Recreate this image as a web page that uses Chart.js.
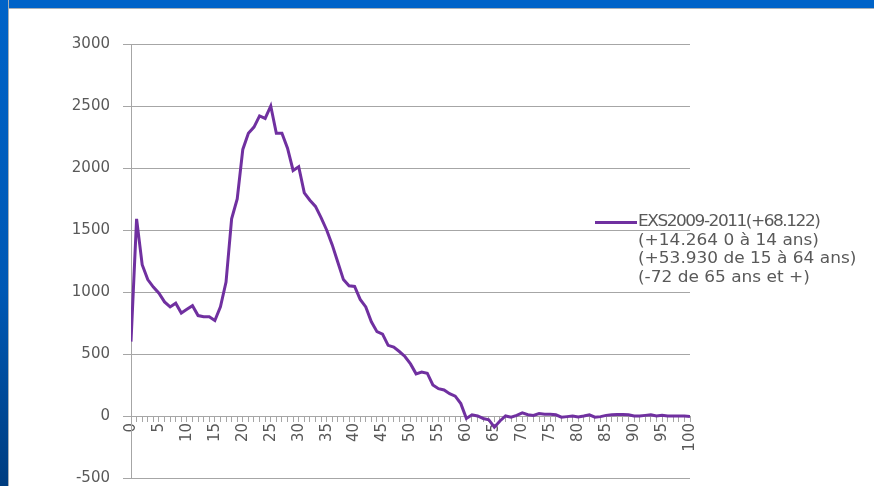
<!DOCTYPE html>
<html>
<head>
<meta charset="utf-8">
<script src="https://cdn.jsdelivr.net/npm/chart.js@4.4.1/dist/chart.umd.min.js"></script>
<style>
    html, body { margin: 0; padding: 0; background: #ffffff; }
    #wrap { position: relative; width: 874px; height: 486px; overflow: hidden; }
    #grafico1 { position: absolute; left: 0; top: 0; }
    #barreHaut { position: absolute; left: 0; top: 0; width: 874px; height: 8px; background: #0063c8; border-bottom: 1px solid #a9b0b8; }
    #barreGauche { position: absolute; left: 0; top: 0; width: 8px; height: 486px; background: linear-gradient(#0063c8, #0058b4 60%, #003d80); border-right: 1px solid #a9b0b8; }
    #legende { position: absolute; left: 595px; top: 212px; font-family: 'DejaVu Sans', sans-serif; font-size: 15px; color: #595959; line-height: 18.7px; }
    #legende .trait { position: absolute; left: 0; top: 9px; width: 42px; height: 3px; background: #7030a0; }
    #legende .texte { margin-left: 43px; white-space: pre; transform: scaleX(1.13); transform-origin: left top; }
    #legende .texte div:first-child { letter-spacing: -1.3px; }
</style>
</head>
<body>
<div id="wrap">
    <canvas id="grafico1" width="874" height="500"></canvas>
    <div id="barreHaut"></div>
    <div id="barreGauche"></div>
    <div id="legende"><div class="trait"></div><div class="texte" id="legendeTexte"></div></div>
</div>
<script>
// âges 0 à 100
const ages = [];
for (let a = 0; a <= 100; a++) ages.push(a);

// solde EXS 2009-2011 par âge
const solde = [
    600, 1590, 1220, 1100, 1040, 990, 920, 880, 910, 830,
    860, 890, 810, 800, 800, 770, 880, 1080, 1590, 1750,
    2150, 2280, 2330, 2420, 2400, 2500, 2280, 2280, 2160, 1980,
    2010, 1800, 1740, 1690, 1600, 1500, 1380, 1240, 1100, 1050,
    1045, 940, 880, 760, 680, 660, 570, 555, 520, 480,
    420, 340, 355, 345, 250, 220, 210, 180, 160, 100,
    -20, 10, 0, -20, -30, -90, -40, 0, -10, 5,
    25, 10, 5, 20, 15, 15, 10, -10, -5, 0,
    -8, 0, 10, -10, -5, 5, 10, 12, 12, 10,
    0, 0, 5, 10, 0, 5, 0, 0, 0, 0,
    -5
];

const yTicks = [-500, 0, 500, 1000, 1500, 2000, 2500, 3000];

const legendeLignes = [
    'EXS2009-2011(+68.122)',
    '(+14.264 0 à 14 ans)',
    '(+53.930 de 15 à 64 ans)',
    '(-72 de 65 ans et +)'
];

const boite = document.getElementById('legendeTexte');
legendeLignes.forEach(t => {
    const d = document.createElement('div');
    d.textContent = t;
    boite.appendChild(d);
});

const gris = '#a6a6a6';
const texte = '#595959';

const ctx = document.getElementById('grafico1').getContext('2d');
new Chart(ctx, {
    type: 'line',
    data: {
        datasets: [{
            label: legendeLignes[0],
            data: ages.map((a, i) => ({ x: a, y: solde[i] })),
            borderColor: '#7030a0',
            borderWidth: 3,
            pointRadius: 0,
            tension: 0,
            fill: false
        }]
    },
    options: {
        responsive: false,
        animation: false,
        layout: { padding: { top: 44, right: 184, bottom: 9, left: 0 } },
        plugins: {
            legend: { display: false },
            tooltip: { enabled: false }
        },
        scales: {
            x: {
                type: 'linear',
                position: { y: 0 },
                min: 0,
                max: 100,
                grid: { drawOnChartArea: false, drawTicks: true, tickLength: 5, color: gris },
                border: { display: true, color: gris },
                ticks: {
                    stepSize: 1,
                    autoSkip: false,
                    minRotation: 90,
                    maxRotation: 90,
                    padding: 2,
                    color: texte,
                    font: { family: 'DejaVu Sans', size: 15 },
                    callback: v => (v % 5 === 0 ? String(v) : '')
                }
            },
            y: {
                min: yTicks[0],
                max: yTicks[yTicks.length - 1],
                afterBuildTicks: s => { s.ticks = yTicks.map(v => ({ value: v })); },
                afterFit: s => { s.width = 131; },
                grid: { color: gris, tickLength: 8 },
                border: { display: true, color: gris },
                ticks: {
                    padding: 13,
                    color: texte,
                    font: { family: 'DejaVu Sans', size: 15 },
                    callback: v => String(v)
                }
            }
        }
    }
});
</script>
</body>
</html>
